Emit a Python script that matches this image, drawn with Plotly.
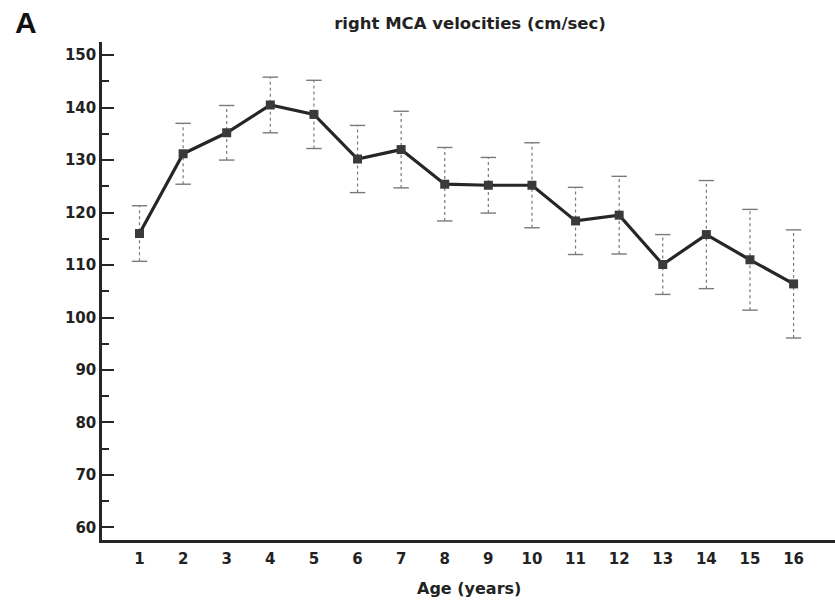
import plotly.graph_objects as go

# Data
ages = list(range(1, 17))
age_labels = [str(a) for a in ages]
velocity = [116.0, 131.2, 135.2, 140.5, 138.7, 130.2, 132.0, 125.4,
            125.2, 125.2, 118.4, 119.5, 110.1, 115.8, 111.0, 106.4]
velocity_err = [5.3, 5.8, 5.2, 5.3, 6.5, 6.4, 7.3, 7.0,
                5.3, 8.1, 6.4, 7.4, 5.7, 10.3, 9.6, 10.3]
y_ticks = [60, 70, 80, 90, 100, 110, 120, 130, 140, 150]

FONT = "DejaVu Sans"
DARK = "#262626"
ERR_COLOR = "#7a7a7a"

# build error-bar stems (dotted) from the data
stem_x, stem_y = [], []
for a, v, e in zip(ages, velocity, velocity_err):
    stem_x += [a, a, None]
    stem_y += [v - e, v + e, None]
cap_x = ages + ages
cap_y = [v + e for v, e in zip(velocity, velocity_err)] + [v - e for v, e in zip(velocity, velocity_err)]

fig = go.Figure()
fig.add_trace(go.Scatter(x=stem_x, y=stem_y, mode="lines",
                         line=dict(color=ERR_COLOR, width=1.2, dash="dot"),
                         hoverinfo="skip", showlegend=False))
fig.add_trace(go.Scatter(x=cap_x, y=cap_y, mode="markers",
                         marker=dict(symbol="line-ew-open", size=11, color=ERR_COLOR,
                                     line=dict(color=ERR_COLOR, width=1.4)),
                         hoverinfo="skip", showlegend=False))
fig.add_trace(go.Scatter(x=ages, y=velocity, mode="lines+markers",
                         line=dict(color=DARK, width=3.2),
                         marker=dict(symbol="square", size=9, color="#3a3a3a"),
                         showlegend=False))

fig.update_layout(
    width=835, height=600,
    margin=dict(l=102, r=0, t=42, b=60),
    paper_bgcolor="white", plot_bgcolor="white",
    font=dict(family=FONT, color="#222222"),
    title=dict(text="right MCA velocities (cm/sec)", x=470 / 835, y=1 - 23 / 600,
               xanchor="center", yanchor="middle",
               font=dict(family=FONT, size=16.5, weight="bold", color="#222222")),
    annotations=[
        dict(text="A", xref="paper", yref="paper", x=-0.1037, y=1.040,
             xanchor="center", yanchor="middle", showarrow=False,
             font=dict(family="Liberation Sans", size=30, weight="bold", color="#111111")),
        dict(text="Age (years)", xref="paper", yref="paper", x=0.5, y=-0.0964,
             xanchor="center", yanchor="middle", showarrow=False,
             font=dict(family=FONT, size=16, weight="bold", color="#222222")),
    ],
)

fig.update_xaxes(range=[0.14, 16.95], tickvals=ages, ticktext=age_labels,
                 showgrid=False, zeroline=False, showline=True,
                 linecolor=DARK, linewidth=2.5, ticks="",
                 ticklabelstandoff=3,
                 tickfont=dict(family=FONT, size=15, weight="bold", color="#222222"))
fig.update_yaxes(range=[57.6, 152.5], tickvals=y_ticks,
                 showgrid=False, zeroline=False, showline=True,
                 linecolor=DARK, linewidth=2.5,
                 ticks="inside", ticklen=12, tickwidth=2, tickcolor=DARK,
                 minor=dict(dtick=5, tick0=55, ticks="inside", ticklen=7,
                            tickwidth=2, tickcolor=DARK, showgrid=False),
                 ticklabelstandoff=0,
                 tickfont=dict(family=FONT, size=15, weight="bold", color="#222222"))

fig.write_html("out.html", config={"displayModeBar": False},
               post_script="document.body.style.margin='0';")
